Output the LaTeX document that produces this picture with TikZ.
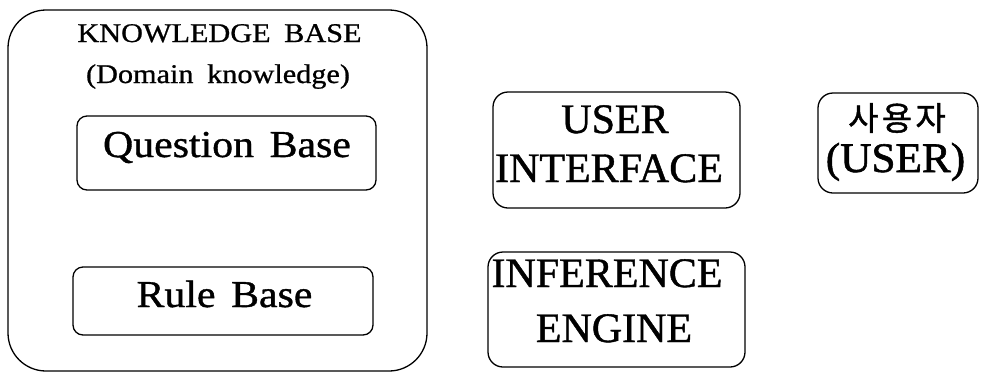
\documentclass[tikz,border=0pt]{standalone}
\usepackage{fontspec}
\setmainfont{Liberation Serif}[FakeBold=1]
\newfontfamily\hangulfont{Noto Sans CJK KR}[LetterSpace=10, FakeBold=1.2]
\newfontfamily\spacedfont{Liberation Serif}[FakeStretch=1.12, WordSpace=1.8, FakeBold=0.8]
\newfontfamily\basefont{Liberation Serif}[FakeStretch=1.1, WordSpace=1.5, FakeBold=1]
\newfontfamily\parenfont{Liberation Serif}[FakeStretch=1.03, FakeBold=1.4]
\usetikzlibrary{positioning}

\begin{document}
\begin{tikzpicture}[
    x=1pt, y=-1pt,
    every node/.style={inner sep=0pt, outer sep=0pt},
    frame/.style={draw, line width=1.3pt, rounded corners=#1},
    frame/.default=10pt,
    small/.style={font=\spacedfont\fontsize{27}{27}\selectfont, anchor=base},
    mid/.style={font=\basefont\fontsize{38}{38}\selectfont, anchor=base},
    big/.style={font=\fontsize{42}{42}\selectfont, anchor=base}
]
\useasboundingbox (0,0) rectangle (981,373);

% Knowledge base with its two parts
\node[frame=38pt, minimum width=419pt, minimum height=361pt] (kb) at (217.5,190.5) {};
\node[small] (kbtitle) at (219.5,42) {KNOWLEDGE BASE};
\node[small] (kbsub) at (218,83) {(Domain knowledge)};

\node[frame, minimum width=299pt, minimum height=74pt] (qb) at (226.5,153) {};
\node[mid] (qbtext) at (227,157) {Question Base};

\node[frame, minimum width=300pt, minimum height=68pt] (rb) at (223,301) {};
\node[mid] (rbtext) at (224.5,307) {Rule Base};

% Interface and engine
\node[frame=15pt, minimum width=247pt, minimum height=116pt] (ui) at (616.5,150) {};
\node[big] (uitop) at (615,133) {USER};
\node[big] (uibot) at (609,182) {INTERFACE};

\node[frame=15pt, minimum width=257pt, minimum height=115pt] (ie) at (616.5,309.5) {};
\node[big] (ietop) at (607,287) {INFERENCE};
\node[big] (iebot) at (614,342) {ENGINE};

% The user
\node[frame=15pt, minimum width=160pt, minimum height=100pt] (usr) at (898,143) {};
\node[font=\hangulfont\fontsize{33}{33}\selectfont] (usrko) at (897,118) {사용자};
\node[big, font=\parenfont\fontsize{42}{42}\selectfont] (usren) at (895.5,172) {(USER)};

\end{tikzpicture}
\end{document}
